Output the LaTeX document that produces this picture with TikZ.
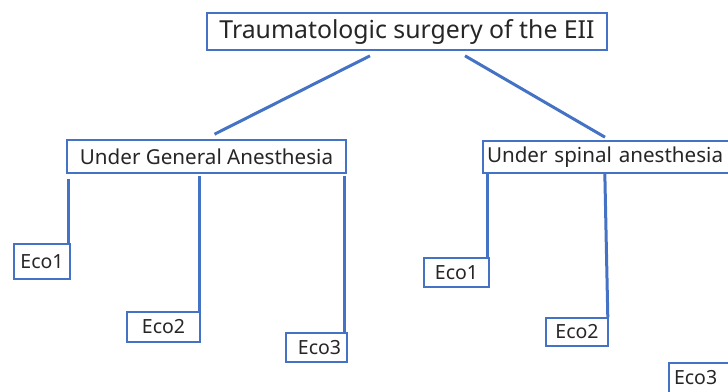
\documentclass[tikz,border=0pt]{standalone}
\usepackage{fontspec}
\setmainfont{Noto Sans}
\definecolor{treeblue}{HTML}{4472C4}
\tikzset{
	box/.style={draw=treeblue, line width=1.6pt, inner sep=0pt, fill=white, text=black!85},
	link/.style={draw=treeblue, line width=3pt},
	ecofont/.style={font=\fontsize{19.5}{22}\selectfont},
}
\begin{document}
\begin{tikzpicture}[x=1pt,y=-1pt]

	\useasboundingbox (0,0) rectangle (728,391);
	\clip (0,0) rectangle (728,391);

	% root
	\node[box, minimum width=400pt, minimum height=37pt, font=\fontsize{24.8}{28}\selectfont] (root) at (407,31.5) {Traumatologic surgery of the EII};

	% general anesthesia
	\node[box, minimum width=279pt, minimum height=33pt, font=\fontsize{20.6}{24}\selectfont] (ga) at (206.5,156.5) {Under General Anesthesia};
	\node[box, ecofont, minimum width=56pt, minimum height=35pt] (ga1) at (42,261.5) {Eco1};
	\node[box, ecofont, minimum width=73pt, minimum height=30pt] (ga2) at (163.5,327) {Eco2};
	\node[box, ecofont, minimum width=61pt, minimum height=29pt] (ga3) at (316.5,347.5) {\hspace{6pt}Eco3};

	% spinal anesthesia
	\node[box, minimum width=246pt, minimum height=32pt, font=\fontsize{20.6}{24}\selectfont, text width=238pt] (sa) at (606,157) {Under spinal anesthesia};
	\node[box, ecofont, minimum width=65pt, minimum height=29pt] (sa1) at (456.5,272.5) {Eco1};
	\node[box, ecofont, minimum width=62pt, minimum height=28pt] (sa2) at (577,332) {Eco2};
	\node[box, ecofont, minimum width=66pt, minimum height=30pt, text width=56pt] (sa3) at (702,378) {Eco3};

	% root links
	\draw[link] ([xshift=-37pt,yshift=-5pt]root.south) -- ([xshift=8pt,yshift=5pt]ga.north);
	\draw[link] ([xshift=58pt,yshift=-5pt]root.south) -- ([xshift=-1pt,yshift=3pt]sa.north);

	% eco links
	\draw[link] ([xshift=-2pt]ga1.north east) -- ++(0,-64);
	\draw[link] ([xshift=-1pt]ga2.north east) -- ++(0,-135);
	\draw[link] ([xshift=-3pt]ga3.north east) -- ++(0,-156);
	\draw[link] ([xshift=-2pt]sa1.north east) -- ++(0,-85);
	\draw[link] ([xshift=-1pt]sa2.north east) -- ++(-3,-145);
	\draw[link] ([xshift=-4pt]sa3.north east) -- ++(0,-188);

\end{tikzpicture}
\end{document}
